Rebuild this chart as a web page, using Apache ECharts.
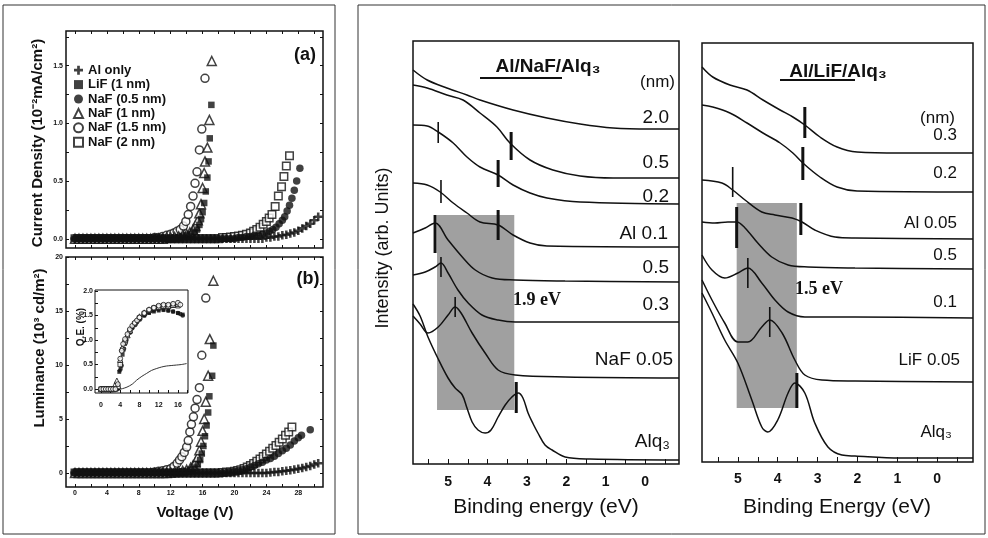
<!DOCTYPE html>
<html>
<head>
<meta charset="utf-8">
<script src="https://cdn.jsdelivr.net/npm/echarts@6.0.0/dist/echarts.min.js"></script>
<style>
html,body{margin:0;padding:0;background:#fff;}
#chart{width:988px;height:538px;}
</style>
</head>
<body>
<div id="chart"></div>
<script>
// ======================= DATA =======================
// Measurement voltage grid (V) used for the low-voltage part of every J-V / L-V series
const voltGrid = [0,0.5,1,1.5,2,2.5,3,3.5,4,4.5,5,5.5,6,6.5,7,7.5,8,8.5,9,9.5,
  10,10.5,11,11.5,12,12.5,13,13.5,14,14.5,15,15.5,16,16.5,17,17.5,18,18.5,19,19.5,
  20,20.5,21,21.5,22,22.5,23,23.5,24,24.5,25,25.5,26,26.5,27,27.5,28,28.5,29,29.5,30,30.5];

// Legend / device names
const deviceNames = ['Al only','LiF (1 nm)','NaF (0.5 nm)','NaF (1 nm)','NaF (1.5 nm)','NaF (2 nm)'];

// (a) Current density (10^-2 mA/cm^2): values on voltGrid, then [V, J] points of the rise
const curAlOnlyBase = [
  0,0,0,0,0,0,0,0,0,0, 0,0,0,0,0,0,0,0,0,0, 0,0,0,0,0,0,0,0,0,0, 0,0,0,0,0,0,0,0,0,0,
  0,0,0,0,0,0,0,0,
  0.01,0.01,0.02,0.02,0.03,0.035,0.045,0.055,0.07,0.09,0.11,0.13,0.16,0.19];
const curNaF05Base = [
  0,0,0,0,0,0,0,0,0,0, 0,0,0,0,0,0,0,0,0,0, 0,0,0,0,0,0,0,0,0,0, 0,0,0,0,0,0,0,0,0,0,
  0, 0.01,0.01,0.02,0.02];
const curNaF05Rise = [[22.5,0.03],[23,0.03],[23.5,0.04],[24,0.05],[24.4,0.065],[24.8,0.08],[25.2,0.10],
  [25.6,0.13],[26,0.16],[26.3,0.19],[26.6,0.24],[26.9,0.29],[27.2,0.35],[27.5,0.42],[27.8,0.50],[28.2,0.61]];
const curNaF2Base = [
  0,0,0,0,0,0,0,0,0,0, 0,0,0,0,0,0,0,0,0,0, 0,0,0,0,0,0,0,0,0,0, 0,0,0,0,0,0,0,
  0.01,0.01,0.015];
const curNaF2Rise = [[20,0.02],[20.5,0.025],[21,0.03],[21.5,0.04],[22,0.05],[22.4,0.065],[22.8,0.08],
  [23.2,0.10],[23.6,0.125],[24,0.15],[24.35,0.18],[24.7,0.21],[25.1,0.28],[25.5,0.37],[25.9,0.45],
  [26.2,0.54],[26.5,0.63],[26.9,0.72]];
const curNaF15Base = [
  0,0,0,0,0,0,0,0,0,0, 0,0,0,0,0,0,0,0,0,0, 0.01,0.01,0.02,0.03];
const curNaF15Rise = [[12,0.04],[12.4,0.05],[12.8,0.065],[13.2,0.08],[13.6,0.11],[13.9,0.15],[14.2,0.21],
  [14.5,0.28],[14.8,0.37],[15.05,0.48],[15.3,0.58],[15.6,0.77],[15.9,0.95],[16.3,1.39]];
const curNaF1Base = [
  0,0,0,0,0,0,0,0,0,0, 0,0,0,0,0,0,0,0,0,0, 0,0,0, 0.01,0.01,0.015];
const curNaF1Rise = [[13,0.02],[13.5,0.03],[14,0.04],[14.4,0.055],[14.8,0.08],[15.1,0.11],[15.4,0.16],
  [15.6,0.22],[15.8,0.30],[16,0.44],[16.2,0.57],[16.3,0.67],[16.6,0.79],[16.85,1.03],[17.15,1.54]];
const curLiFBase = [
  0,0,0,0,0,0,0,0,0,0, 0,0,0,0,0,0,0,0,0,0, 0,0,0,0,0, 0.01,0.015];
const curLiFRise = [[13.5,0.02],[14,0.03],[14.5,0.04],[15,0.06],[15.3,0.08],[15.6,0.12],[15.8,0.17],
  [16,0.23],[16.2,0.31],[16.4,0.41],[16.6,0.53],[16.75,0.67],[16.9,0.87],[17.1,1.16]];

// (b) Luminance (10^3 cd/m^2)
const lumAlOnlyBase = [
  0,0,0,0,0,0,0,0,0,0, 0,0,0,0,0,0,0,0,0,0, 0,0,0,0,0,0,0,0,0,0, 0,0,0,0,0,0,0,0,0,0,
  0,0,0,0,0,0,0,0,0,
  0.05,0.08,0.1,0.15,0.2,0.25,0.32,0.38,0.45,0.55,0.65,0.78,0.9];
const lumNaF05Base = [
  0,0,0,0,0,0,0,0,0,0, 0,0,0,0,0,0,0,0,0,0, 0,0,0,0,0,0,0,0,0,0, 0,0,0,0,0,0,0,0,
  0.05,0.1,0.15];
const lumNaF05Rise = [[20.5,0.2],[21,0.3],[21.5,0.4],[22,0.55],[22.5,0.7],[23,0.85],[23.5,1.0],[24,1.2],
  [24.5,1.35],[25,1.55],[25.5,1.8],[26,2.05],[26.5,2.3],[27,2.6],[27.5,2.95],[28,3.25],[28.4,3.5],[29.5,4.0]];
const lumNaF2Base = [
  0,0,0,0,0,0,0,0,0,0, 0,0,0,0,0,0,0,0,0,0, 0,0,0,0,0,0,0,0,0,0, 0,0,0,0,0,0,0,
  0.05,0.08,0.1];
const lumNaF2Rise = [[20,0.15],[20.4,0.22],[20.8,0.3],[21.2,0.42],[21.6,0.55],[22,0.7],[22.4,0.88],
  [22.8,1.08],[23.2,1.3],[23.6,1.52],[24,1.75],[24.4,2.0],[24.8,2.28],[25.2,2.55],[25.6,2.85],[26,3.15],
  [26.4,3.5],[26.8,3.8],[27.2,4.25]];
const lumNaF15Base = [
  0,0,0,0,0,0,0,0,0,0, 0,0,0,0,0,0,0,0,0,0, 0.1,0.15,0.2,0.3];
const lumNaF15Rise = [[12,0.4],[12.4,0.6],[12.8,0.9],[13.1,1.2],[13.4,1.5],[13.7,1.9],[14,2.4],[14.2,3.0],
  [14.4,3.8],[14.6,4.5],[14.85,5.2],[15.06,6.0],[15.3,6.8],[15.6,7.9],[15.9,10.9],[16.4,16.2]];
const lumNaF1Base = [
  0,0,0,0,0,0,0,0,0,0, 0,0,0,0,0,0,0,0,0,0, 0,0,0,0, 0.05,0.1,0.15];
const lumNaF1Rise = [[13.5,0.2],[14,0.3],[14.5,0.5],[14.8,0.7],[15.1,1.0],[15.4,1.5],[15.6,2.1],[15.8,2.9],
  [16,3.9],[16.2,5.0],[16.4,6.6],[16.7,9.0],[16.9,12.4],[17.35,17.8]];
const lumLiFBase = [
  0,0,0,0,0,0,0,0,0,0, 0,0,0,0,0,0,0,0,0,0, 0,0,0,0,0, 0.05,0.1,0.15];
const lumLiFRise = [[14,0.2],[14.5,0.3],[15,0.5],[15.4,0.8],[15.7,1.2],[15.9,1.8],[16.1,2.5],[16.3,3.4],
  [16.5,4.4],[16.7,5.6],[16.85,7.1],[17.2,9.0],[17.35,11.8]];

// Inset: quantum efficiency (%) vs voltage (V)
const qeAlOnly = [[0,0],[1,0],[2,0],[3,0],[4,0],[4.5,0.01],[5.4,0.04],[6.5,0.1],[7.4,0.18],[8.5,0.26],
  [9.5,0.32],[10.5,0.38],[11.6,0.42],[12.6,0.45],[13.6,0.47],[14.6,0.48],[15.7,0.49],[16.7,0.5],[17.8,0.52]];
const qeLiF = [[0,0],[0.5,0],[1,0],[1.5,0],[2,0],[2.5,0],[3,0],[3.5,0.02],[3.8,0.35],[4.1,0.42],[4.5,0.7],
  [5,0.92],[5.5,1.08],[6,1.18],[6.5,1.26],[7,1.32],[8,1.42],[9,1.5],[10,1.55],[11,1.58],[12,1.6],[13,1.61],
  [14,1.6],[15,1.58],[16,1.55],[17,1.52]];
const qeNaF05 = [[0,0],[0.5,0],[1,0],[1.5,0],[2,0],[2.5,0],[3,0],[3.5,0],[3.9,0.38],[4.3,0.48],[4.8,0.82],
  [5.3,1.0],[6,1.15],[6.5,1.24],[7,1.3],[7.5,1.36],[8,1.42],[9,1.5],[10,1.56],[11,1.6],[12,1.62],[13,1.62],
  [14,1.6],[15,1.58],[16,1.55],[16.5,1.53],[17,1.5]];
const qeNaF1 = [[0,0],[0.5,0],[1,0],[1.5,0],[2,0],[2.5,0],[3,0.1],[3.3,0.17],[3.6,0.06],[4,0.6],[4.4,0.84],
  [5,1.0],[5.5,1.1],[6,1.2],[7,1.36],[8,1.48],[9,1.56],[10,1.62],[11,1.66],[12,1.68],[13,1.7],[14,1.7],
  [15,1.72],[16,1.74]];
const qeNaF15 = [[0,0],[0.5,0],[1,0],[1.5,0],[2,0],[2.5,0],[3,0],[3.5,0.1],[4,0.62],[4.3,0.78],[4.6,0.92],
  [5,1.02],[5.5,1.12],[6,1.22],[6.5,1.29],[7,1.35],[7.5,1.4],[8,1.46],[9,1.55],[10,1.62],[11,1.66],[12,1.7],
  [13,1.72],[14,1.72],[15,1.74],[16,1.76],[16.5,1.72]];
const qeNaF2 = [[0,0],[0.5,0],[1,0],[1.5,0],[2,0],[2.5,0],[3,0],[3.5,0.05],[4,0.5],[4.5,0.8],[5,0.96],
  [6,1.18],[7,1.33],[8,1.45],[9,1.54],[10,1.6],[11,1.65],[12,1.68],[13,1.7],[14,1.7],[15,1.71],[16,1.7]];

// UPS spectra, Al/NaF/Alq3: [binding energy (eV), intensity (arb. units)]
const nafSpec_2_0  = [[5.89,394],[5.53,384],[5.03,376],[4.52,369],[4.19,364],[3.35,354],[2.49,346],[1.65,340],[0.81,336],[-0.13,335],[-0.86,335]];
const nafSpec_0_5  = [[5.89,379],[5.53,376],[5.03,369],[4.62,364],[4.19,351],[3.76,337],[3.43,321],[2.92,304],[2.34,294],[1.65,288],[0.81,286],[-0.86,286]];
const nafSpec_0_2  = [[5.89,339],[5.53,338],[5.25,332],[4.87,321],[4.52,307],[4.19,297],[3.73,289],[3.35,279],[2.92,271],[2.49,266],[1.65,262],[-0.86,260]];
const nafSpec_Al01 = [[5.89,281],[5.53,279],[5.20,272],[4.87,261],[4.52,251],[4.19,242],[3.73,239],[3.35,229],[2.92,221],[2.49,218],[-0.86,217]];
const nafSpec_0_5b = [[5.89,231],[5.58,236],[5.33,241],[5.0,224],[4.64,207],[4.31,194],[3.88,186],[3.30,184],[2.03,183],[-0.86,182]];
const nafSpec_0_3  = [[5.89,189],[5.58,192],[5.33,197],[5.18,201],[5.0,191],[4.75,174],[4.49,161],[4.14,149],[3.73,144],[3.30,142],[2.03,142],[-0.86,142]];
const nafSpec_005  = [[5.89,148],[5.71,140],[5.51,131],[5.25,137],[5.0,149],[4.82,157],[4.67,151],[4.39,131],[4.06,111],[3.73,94],[3.30,89],[2.03,87],[-0.86,86]];
const nafSpec_Alq3 = [[5.89,160],[5.71,148],[5.51,127],[5.25,105],[5.0,86],[4.82,76],[4.64,69],[4.52,56],[4.39,42],[4.24,34],[4.06,31],[3.91,34],[3.73,47],[3.55,59],[3.38,67],[3.22,71],[3.10,66],[2.97,51],[2.84,40],[2.72,31],[2.54,19],[2.36,14],[2.03,7],[1.40,5],[-0.86,4]];
// feature markers [E, I_low, I_high]
const nafMarksThick = [[3.40,304,332],[3.73,277,304],[3.73,224,254],[5.33,211,249],[3.27,51,82]];
const nafMarksThin  = [[5.25,321,342],[5.18,261,284],[5.18,187,207],[4.82,147,167]];
// shaded gap region [E_left, E_right, I_low, I_high]
const nafShade = [[5.28,3.32,54,249]];

// UPS spectra, Al/LiF/Alq3
const lifSpec_0_3   = [[5.90,395],[5.63,385],[5.20,377],[4.77,372],[4.37,362],[3.94,352],[3.62,345],[3.32,337],[2.94,325],[2.51,315],[2.01,310],[0.93,309],[-0.90,309]];
const lifSpec_0_2   = [[5.90,357],[5.63,355],[5.20,349],[4.77,339],[4.37,329],[3.94,319],[3.62,309],[3.37,299],[2.94,285],[2.51,275],[2.01,271],[-0.90,270]];
const lifSpec_Al005 = [[5.90,282],[5.40,279],[5.13,272],[4.82,262],[4.40,250],[4.07,247],[3.64,244],[3.39,240],[3.07,232],[2.56,225],[2.06,224],[-0.90,223]];
const lifSpec_0_5   = [[5.90,240],[5.58,239],[5.25,240],[5.03,240],[4.82,234],[4.50,219],[4.15,205],[3.74,197],[3.24,195],[2.06,194],[-0.90,193]];
const lifSpec_0_1   = [[5.90,207],[5.65,192],[5.33,184],[5.0,189],[4.75,194],[4.40,179],[4.07,162],[3.74,150],[3.32,145],[2.06,145],[-0.90,144]];
const lifSpec_005   = [[5.90,182],[5.65,162],[5.33,139],[5.0,120],[4.75,120],[4.40,135],[4.20,142],[3.89,129],[3.57,102],[3.32,87],[2.89,82],[2.06,81],[-0.90,80]];
const lifSpec_Alq3  = [[5.90,169],[5.65,149],[5.33,122],[5.0,99],[4.65,62],[4.40,35],[4.25,30],[4.0,42],[3.74,69],[3.57,79],[3.32,69],[3.07,39],[2.74,15],[2.39,7],[2.06,6],[0.93,4],[-0.90,4]];
const lifMarksThick = [[3.32,324,355],[3.37,282,315],[3.42,227,259],[5.03,214,255],[3.52,54,89]];
const lifMarksThin  = [[5.13,265,295],[4.75,174,204],[4.20,125,155]];
const lifShade = [[5.03,3.52,54,259]];

// Tick values
const voltLabelTicks = [0,4,8,12,16,20,24,28];
const voltTickMarks = [0,2,4,6,8,10,12,14,16,18,20,22,24,26,28,30];
const curLabelTicks = [0,0.5,1.0,1.5];
const curTickMarks = [0,0.25,0.5,0.75,1,1.25,1.5,1.75];
const lumLabelTicks = [0,5,10,15,20];
const lumTickMarks = [0,2.5,5,7.5,10,12.5,15,17.5,20];
const qeLabelTicks = [0,0.5,1.0,1.5,2.0];
const qeTickMarks = [0,0.25,0.5,0.75,1,1.25,1.5,1.75,2];
const insetVoltLabels = [0,4,8,12,16];
const insetVoltMarks = [0,2,4,6,8,10,12,14,16,18];
const beLabelTicks = [5,4,3,2,1,0];
const beTickMarks = [5.5,5,4.5,4,3.5,3,2.5,2,1.5,1,0.5,0,-0.5];

// ======================= CHART =======================
const FONT = '"Liberation Sans", Arial, Helvetica, sans-serif';
const SERIF = '"Liberation Serif", "Times New Roman", serif';
const INK = '#111';
const PLUS = 'path://M3.5,0H6.5V3.5H10V6.5H6.5V10H3.5V6.5H0V3.5H3.5Z';

function pairs(base, rise) { return base.map((y, i) => [voltGrid[i], y]).concat(rise || []); }

const markerStyle = {
  'Al only':      {symbol: PLUS, symbolSize: 8.5, itemStyle: {color: INK}},
  'LiF (1 nm)':   {symbol: 'rect', symbolSize: 6.5, itemStyle: {color: INK}},
  'NaF (0.5 nm)': {symbol: 'circle', symbolSize: 7.5, itemStyle: {color: INK}},
  'NaF (1 nm)':   {symbol: 'triangle', symbolSize: 9, itemStyle: {color: '#fff', borderColor: INK, borderWidth: 1.5}},
  'NaF (1.5 nm)': {symbol: 'circle', symbolSize: 8, itemStyle: {color: '#fff', borderColor: INK, borderWidth: 1.5}},
  'NaF (2 nm)':   {symbol: 'rect', symbolSize: 7.5, itemStyle: {color: '#fff', borderColor: INK, borderWidth: 1.5}}
};

function hidden(o) {
  return Object.assign({type: 'value', splitLine: {show: false}, axisLine: {show: false, onZero: false},
    axisTick: {show: false}, axisLabel: {show: false}}, o);
}
function ticked(o, marks, labels, lab) {
  const a = hidden(o);
  a.axisTick = {show: true, inside: true, length: o._tl || 3, customValues: marks, lineStyle: {color: INK, width: 1}};
  if (labels) {
    a.axisLabel = Object.assign({show: true, customValues: labels, color: INK, fontFamily: FONT, fontWeight: 'bold'}, lab);
  }
  delete a._tl;
  return a;
}
const smallLab = {fontSize: 7, margin: 3};

const xAxes = [
  ticked({gridIndex: 0, min: -1.13, max: 31.1}, voltTickMarks),
  ticked({gridIndex: 0, min: -1.13, max: 31.1, position: 'top'}, voltTickMarks),
  ticked({gridIndex: 1, min: -1.13, max: 31.1}, voltTickMarks, voltLabelTicks, smallLab),
  ticked({gridIndex: 1, min: -1.13, max: 31.1, position: 'top'}, voltTickMarks),
  ticked({gridIndex: 2, min: -1.25, max: 18.1}, insetVoltMarks, insetVoltLabels, {fontSize: 7, margin: 9}),
  ticked({gridIndex: 3, min: -0.86, max: 5.89, inverse: true, _tl: 5}, beTickMarks, beLabelTicks, {fontSize: 14, margin: 11}),
  ticked({gridIndex: 4, min: -0.90, max: 5.90, inverse: true, _tl: 5}, beTickMarks, beLabelTicks, {fontSize: 14, margin: 10})
];
const yAxes = [
  ticked({gridIndex: 0, min: -0.08, max: 1.8}, curTickMarks, curLabelTicks, Object.assign({formatter: v => v.toFixed(1)}, smallLab)),
  ticked({gridIndex: 0, min: -0.08, max: 1.8, position: 'right'}, curTickMarks),
  ticked({gridIndex: 1, min: -1.3, max: 20}, lumTickMarks, lumLabelTicks, smallLab),
  ticked({gridIndex: 1, min: -1.3, max: 20, position: 'right'}, lumTickMarks),
  ticked({gridIndex: 2, min: -0.08, max: 2.02}, qeTickMarks, qeLabelTicks, {fontSize: 7, margin: 2, formatter: v => v.toFixed(1)}),
  hidden({gridIndex: 3, min: 0, max: 423}),
  hidden({gridIndex: 4, min: 0, max: 419})
];

const series = [];
function scatterSet(prefix, xi, yi, sets, scale) {
  sets.forEach(([name, data]) => {
    const m = markerStyle[name];
    const st = Object.assign({}, m.itemStyle);
    if (scale && st.borderWidth) st.borderWidth = 1;
    series.push({type: 'scatter', name: prefix + name, xAxisIndex: xi, yAxisIndex: yi, data: data,
      symbol: m.symbol, symbolSize: m.symbolSize * (scale || 1), itemStyle: st, silent: true, z: 3});
  });
}
// (legend picks the first series of each name: register (a) first)
scatterSet('', 0, 0, [
  ['NaF (1.5 nm)', pairs(curNaF15Base, curNaF15Rise)],
  ['NaF (2 nm)', pairs(curNaF2Base, curNaF2Rise)],
  ['NaF (1 nm)', pairs(curNaF1Base, curNaF1Rise)],
  ['NaF (0.5 nm)', pairs(curNaF05Base, curNaF05Rise)],
  ['LiF (1 nm)', pairs(curLiFBase, curLiFRise)],
  ['Al only', pairs(curAlOnlyBase)]
]);
scatterSet('b:', 2, 2, [
  ['NaF (1.5 nm)', pairs(lumNaF15Base, lumNaF15Rise)],
  ['NaF (2 nm)', pairs(lumNaF2Base, lumNaF2Rise)],
  ['NaF (1 nm)', pairs(lumNaF1Base, lumNaF1Rise)],
  ['NaF (0.5 nm)', pairs(lumNaF05Base, lumNaF05Rise)],
  ['LiF (1 nm)', pairs(lumLiFBase, lumLiFRise)],
  ['Al only', pairs(lumAlOnlyBase)]
]);
series.push({type: 'line', name: 'i:Al only', xAxisIndex: 4, yAxisIndex: 4, data: qeAlOnly, showSymbol: false,
  lineStyle: {color: '#333', width: 1}, smooth: 0.3, silent: true, z: 3});
scatterSet('i:', 4, 4, [
  ['NaF (0.5 nm)', qeNaF05],
  ['LiF (1 nm)', qeLiF],
  ['NaF (2 nm)', qeNaF2],
  ['NaF (1 nm)', qeNaF1],
  ['NaF (1.5 nm)', qeNaF15]
], 0.6);

function shadeSeries(xi, yi, data) {
  return {type: 'custom', xAxisIndex: xi, yAxisIndex: yi, data: data, silent: true, z: 1,
    renderItem: (p, api) => {
      const a = api.coord([api.value(0), api.value(3)]);
      const b = api.coord([api.value(1), api.value(2)]);
      return {type: 'rect', shape: {x: Math.min(a[0], b[0]), y: Math.min(a[1], b[1]),
        width: Math.abs(b[0] - a[0]), height: Math.abs(b[1] - a[1])}, style: {fill: '#a0a0a0'}};
    }};
}
function markSeries(xi, yi, data, w) {
  return {type: 'custom', xAxisIndex: xi, yAxisIndex: yi, data: data, silent: true, z: 5,
    renderItem: (p, api) => {
      const a = api.coord([api.value(0), api.value(1)]);
      const b = api.coord([api.value(0), api.value(2)]);
      return {type: 'line', shape: {x1: a[0], y1: a[1], x2: b[0], y2: b[1]}, style: {stroke: INK, lineWidth: w}};
    }};
}
function specSeries(xi, yi, data) {
  return {type: 'line', xAxisIndex: xi, yAxisIndex: yi, data: data, showSymbol: false, smooth: 0.35,
    lineStyle: {color: INK, width: 1.5}, silent: true, z: 3};
}
series.push(shadeSeries(5, 5, nafShade));
[nafSpec_2_0, nafSpec_0_5, nafSpec_0_2, nafSpec_Al01, nafSpec_0_5b, nafSpec_0_3, nafSpec_005, nafSpec_Alq3]
  .forEach(d => series.push(specSeries(5, 5, d)));
series.push(markSeries(5, 5, nafMarksThick, 3));
series.push(markSeries(5, 5, nafMarksThin, 1.6));
series.push(shadeSeries(6, 6, lifShade));
[lifSpec_0_3, lifSpec_0_2, lifSpec_Al005, lifSpec_0_5, lifSpec_0_1, lifSpec_005, lifSpec_Alq3]
  .forEach(d => series.push(specSeries(6, 6, d)));
series.push(markSeries(6, 6, lifMarksThick, 3));
series.push(markSeries(6, 6, lifMarksThin, 1.6));

// ---- annotations (layout) ----
function txt(text, x, y, o) {
  o = o || {};
  const al = o.align || 'center';
  return {type: 'text', x: x, y: y, rotation: o.rot || 0, z: 100, silent: true,
    style: {text: text, fill: INK, fontFamily: o.family || FONT, fontSize: o.size || 14,
      fontWeight: o.weight || 'normal', textAlign: al, align: al, textVerticalAlign: 'middle', verticalAlign: 'middle'}};
}
const R = Math.PI / 2;
const graphic = [
  {type: 'rect', shape: {x: 3, y: 5, width: 332, height: 529}, style: {fill: 'none', stroke: '#333', lineWidth: 1}, silent: true},
  {type: 'rect', shape: {x: 358, y: 5, width: 627, height: 529}, style: {fill: 'none', stroke: '#333', lineWidth: 1}, silent: true},
  txt('(a)', 305, 55, {size: 18, weight: 'bold'}),
  txt('(b)', 308, 279, {size: 18, weight: 'bold'}),
  txt('Current Density (10⁻²mA/cm²)', 38, 143, {size: 15, weight: 'bold', rot: R}),
  txt('Luminance (10³ cd/m²)', 40, 348, {size: 15, weight: 'bold', rot: R}),
  txt('Voltage (V)', 195, 513, {size: 15, weight: 'bold'}),
  txt('Q.E. (%)', 81, 327, {size: 10, weight: 'bold', rot: R}),
  txt('Intensity (arb. Units)', 383, 248, {size: 18, rot: R}),
  txt('Binding energy (eV)', 546, 507, {size: 21}),
  txt('Binding Energy (eV)', 837, 507, {size: 21}),
  txt('Al/NaF/Alq₃', 548, 67, {size: 19, weight: 'bold'}),
  txt('Al/LiF/Alq₃', 838, 72, {size: 19, weight: 'bold'}),
  {type: 'line', shape: {x1: 480, y1: 78, x2: 562, y2: 78}, style: {stroke: INK, lineWidth: 2}, silent: true},
  {type: 'line', shape: {x1: 780, y1: 80, x2: 855, y2: 80}, style: {stroke: INK, lineWidth: 2}, silent: true},
  txt('(nm)', 675, 82, {size: 17, align: 'right'}),
  txt('2.0', 669, 118, {size: 19, align: 'right'}),
  txt('0.5', 669, 163, {size: 19, align: 'right'}),
  txt('0.2', 669, 197, {size: 19, align: 'right'}),
  txt('Al 0.1', 668, 234, {size: 19, align: 'right'}),
  txt('0.5', 669, 268, {size: 19, align: 'right'}),
  txt('0.3', 669, 305, {size: 19, align: 'right'}),
  txt('NaF 0.05', 673, 360, {size: 19, align: 'right'}),
  txt('Alq₃', 670, 442, {size: 19, align: 'right'}),
  txt('1.9 eV', 513, 300, {size: 18, weight: 'bold', family: SERIF, align: 'left'}),
  txt('(nm)', 955, 118, {size: 17, align: 'right'}),
  txt('0.3', 957, 135, {size: 17, align: 'right'}),
  txt('0.2', 957, 173, {size: 17, align: 'right'}),
  txt('Al 0.05', 957, 223, {size: 17, align: 'right'}),
  txt('0.5', 957, 255, {size: 17, align: 'right'}),
  txt('0.1', 957, 302, {size: 17, align: 'right'}),
  txt('LiF 0.05', 960, 360, {size: 17, align: 'right'}),
  txt('Alq₃', 952, 432, {size: 17, align: 'right'}),
  txt('1.5 eV', 795, 289, {size: 18, weight: 'bold', family: SERIF, align: 'left'})
];

const gridBase = {show: true, borderColor: INK, borderWidth: 1.5, containLabel: false};
const option = {
  animation: false,
  backgroundColor: '#fff',
  textStyle: {fontFamily: FONT},
  grid: [
    Object.assign({left: 66, top: 31, width: 257, height: 217}, gridBase),
    Object.assign({left: 66, top: 257, width: 257, height: 230}, gridBase),
    Object.assign({left: 95, top: 290, width: 93, height: 103, backgroundColor: '#fff'}, gridBase, {borderWidth: 1}),
    Object.assign({left: 413, top: 41, width: 266, height: 423}, gridBase),
    Object.assign({left: 702, top: 43, width: 271, height: 419}, gridBase)
  ],
  xAxis: xAxes,
  yAxis: yAxes,
  legend: {
    data: deviceNames, orient: 'vertical', left: 73, top: 63, padding: 0, itemGap: 0,
    itemWidth: 9, itemHeight: 9, selectedMode: false,
    textStyle: {fontFamily: FONT, fontWeight: 'bold', fontSize: 13, color: INK, lineHeight: 14.4}
  },
  series: series,
  graphic: graphic
};
const chart = echarts.init(document.getElementById('chart'));
chart.setOption(option);
</script>
</body>
</html>
